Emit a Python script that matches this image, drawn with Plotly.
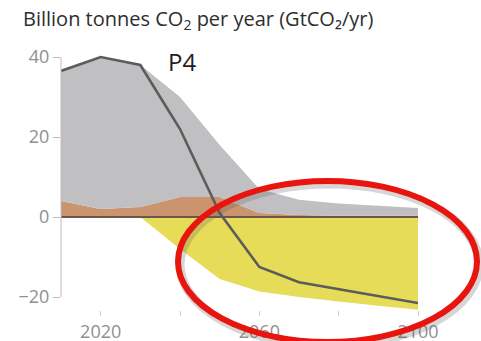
import plotly.graph_objects as go

# Pathway P4: CO2 emissions by source, GtCO2/yr
years = [2010, 2020, 2030, 2040, 2050, 2060, 2070, 2080, 2090, 2100]
afolu = [4.0, 2.0, 2.5, 5.0, 5.0, 1.0, 0.5, 0.3, 0.3, 0.3]
fossil_industry = [32.5, 38.0, 35.5, 25.0, 13.0, 6.0, 3.8, 3.1, 2.5, 1.95]
beccs = [0.0, 0.0, 0.0, -8.0, -15.5, -18.6, -20.0, -21.1, -22.2, -23.2]
net_co2 = [36.5, 40.0, 38.0, 22.0, 1.0, -12.5, -16.3, -18.0, -19.8, -21.5]

y_ticks = [-20, 0, 20, 40]
x_ticks = [2020, 2040, 2060, 2080, 2100]
x_ticktext = ["2020", "", "2060", "", "2100"]

W, H = 481, 341
M = dict(l=61, r=63, t=49, b=31)
plot_w = W - M["l"] - M["r"]
plot_h = H - M["t"] - M["b"]


def px_to_paper(px, py):
    return (px - M["l"]) / plot_w, (H - M["b"] - py) / plot_h


fig = go.Figure()

fig.add_trace(go.Scatter(x=years, y=afolu, stackgroup="pos", mode="none",
                         fillcolor="#c9946e", name="AFOLU"))
fig.add_trace(go.Scatter(x=years, y=fossil_industry, stackgroup="pos", mode="none",
                         fillcolor="#c0c0c2", name="Fossil fuel and industry"))
fig.add_trace(go.Scatter(x=years, y=beccs, stackgroup="neg", mode="none",
                         fillcolor="#e6dc58", name="BECCS"))
fig.add_trace(go.Scatter(x=years, y=[0] * len(years), mode="lines",
                         line=dict(color="#6a5748", width=2), name="zero"))
fig.add_trace(go.Scatter(x=years, y=net_co2, mode="lines",
                         line=dict(color="#5c5c5c", width=2.6), name="Net CO2"))

fig.update_xaxes(range=[2010, 2100], tickvals=x_ticks, ticktext=x_ticktext,
                 ticks="outside", ticklen=5, tickcolor="#cfcfcf", automargin=False,
                 showline=False, showgrid=False, zeroline=False,
                 tickfont=dict(family="Open Sans", size=18, color="#8f8f8f"))
fig.update_yaxes(range=[-23.25, 42], tickvals=y_ticks, automargin=False,
                 ticks="outside", ticklen=7, tickcolor="#bdbdbd",
                 showline=False, showgrid=False, zeroline=False,
                 tickfont=dict(family="Open Sans", size=18, color="#8f8f8f"))

shapes = [
    # y axis spine between the outer ticks
    dict(type="line", xref="paper", yref="y", x0=0, x1=0, y0=-20, y1=40,
         line=dict(color="#bdbdbd", width=1)),
]

# highlight ellipse with soft shadow
ex0, ey0 = px_to_paper(178, 342)
ex1, ey1 = px_to_paper(477, 181)
sx0, sy0 = px_to_paper(180, 345)
sx1, sy1 = px_to_paper(479, 184)
shapes.append(dict(type="circle", xref="paper", yref="paper", layer="above",
                   x0=sx0, x1=sx1, y0=sy0, y1=sy1,
                   line=dict(color="rgba(90,90,90,0.25)", width=9)))
shapes.append(dict(type="circle", xref="paper", yref="paper", layer="above",
                   x0=ex0, x1=ex1, y0=ey0, y1=ey1,
                   line=dict(color="#e8140e", width=6)))

tx, ty = px_to_paper(21, 20)
annotations = [
    dict(text="Billion tonnes CO<sub>2</sub> per year (GtCO₂/yr)", xref="paper", yref="paper",
         x=tx, y=ty, xanchor="left", yanchor="middle", showarrow=False,
         font=dict(family="Open Sans", size=20, color="#2e2e2e")),
    dict(text="P4", xref="x", yref="y", x=2040.5, y=38.8, showarrow=False,
         xanchor="center", yanchor="middle",
         font=dict(family="Open Sans", size=24, color="#1e1e1e")),
]

fig.update_layout(width=W, height=H, margin=M, showlegend=False,
                  plot_bgcolor="white", paper_bgcolor="white",
                  shapes=shapes, annotations=annotations)

fig.write_html("out.html")
